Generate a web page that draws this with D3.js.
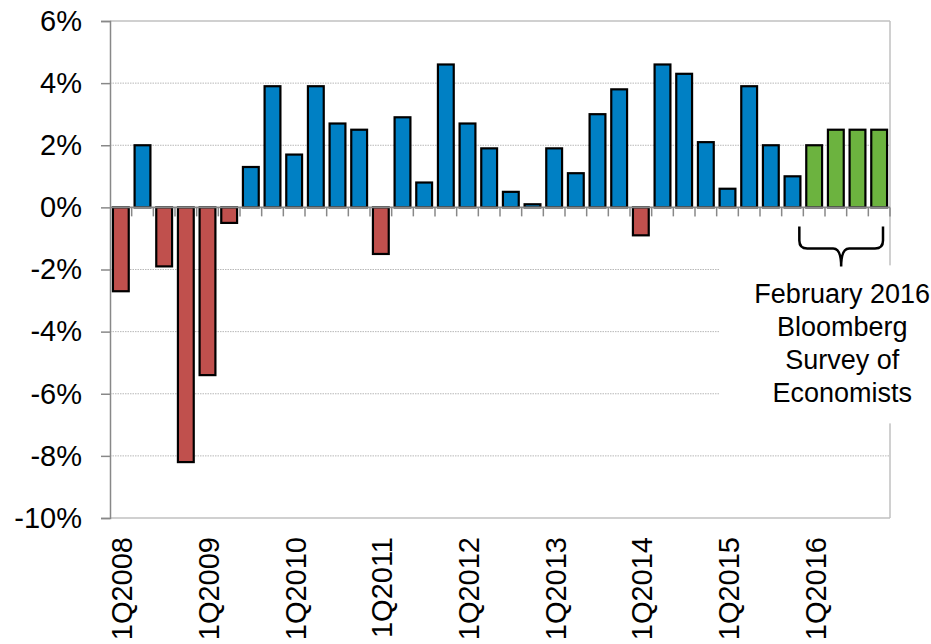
<!DOCTYPE html>
<html>
<head>
<meta charset="utf-8">
<script src="https://cdn.jsdelivr.net/npm/d3@7"></script>
<style>
  body { margin: 0; background: #fff; }
  svg { font-family: "Liberation Sans", Arial, sans-serif; }
</style>
</head>
<body>
<svg id="chart" width="931" height="644"></svg>
<script>
// quarters 1Q2008 .. 4Q2016
const years = d3.range(2008, 2017)
const quarters = years.flatMap(y => [1, 2, 3, 4].map(q => `${q}Q${y}`))

// real GDP growth, annualised q/q %
const actual = [
  -2.7, 2.0, -1.9, -8.2,
  -5.4, -0.5, 1.3, 3.9,
  1.7, 3.9, 2.7, 2.5,
  -1.5, 2.9, 0.8, 4.6,
  2.7, 1.9, 0.5, 0.1,
  1.9, 1.1, 3.0, 3.8,
  -0.9, 4.6, 4.3, 2.1,
  0.6, 3.9, 2.0, 1.0
]
// Bloomberg survey forecast for 2016
const forecast = [2.0, 2.5, 2.5, 2.5]

const yTicks = [6, 4, 2, 0, -2, -4, -6, -8, -10]
const noteLines = ["February 2016", "Bloomberg", "Survey of", "Economists"]

const data = quarters.map((q, i) => {
  const isForecast = i >= actual.length
  const v = isForecast ? forecast[i - actual.length] : actual[i]
  return { q, v, kind: isForecast ? "forecast" : (v < 0 ? "neg" : "pos") }
})

const colors = { pos: "#0080c4", neg: "#c0504d", forecast: "#6cb33f" }

const margin = { top: 21, right: 41, bottom: 126, left: 110 }
const W = 931, H = 644
const w = W - margin.left - margin.right
const h = H - margin.top - margin.bottom

const svg = d3.select("#chart")
const g = svg.append("g").attr("transform", `translate(${margin.left},${margin.top})`)

const x = d3.scaleBand().domain(quarters).range([0, w]).paddingInner(0.27).paddingOuter(0.135)
const xStep = d3.scaleBand().domain(quarters).range([0, w])
const y = d3.scaleLinear().domain([-10, 6]).range([h, 0])

// gridlines
g.append("g").selectAll("line")
  .data(yTicks.filter(t => t !== 6 && t !== -10 && t !== 0))
  .join("line")
    .attr("x1", 0).attr("x2", w)
    .attr("y1", d => y(d)).attr("y2", d => y(d))
    .attr("stroke", "#b8b8b8")
    .attr("stroke-dasharray", "1.5,1")

// top, bottom, right borders
g.append("line").attr("x1", 0).attr("x2", w).attr("y1", y(6)).attr("y2", y(6))
  .attr("stroke", "#c0c0c0").attr("stroke-width", 1.5)
g.append("line").attr("x1", 0).attr("x2", w).attr("y1", y(-10)).attr("y2", y(-10))
  .attr("stroke", "#c0c0c0").attr("stroke-width", 1.5)
g.append("line").attr("x1", w).attr("x2", w).attr("y1", y(6)).attr("y2", y(-10))
  .attr("stroke", "#c0c0c0").attr("stroke-width", 1.5)

// y axis
const yAxis = g.append("g")
  .call(d3.axisLeft(y).tickValues(yTicks).tickFormat(d => d + "%").tickSize(9).tickPadding(19))
yAxis.select(".domain").attr("stroke", "#888").attr("stroke-width", 1.5)
yAxis.selectAll(".tick line").attr("stroke", "#888").attr("stroke-width", 1.5)
yAxis.selectAll("text").attr("font-size", 29).attr("fill", "#000")
  .attr("font-family", "'Liberation Sans', Arial, sans-serif")

// bars
g.append("g").selectAll("rect")
  .data(data)
  .join("rect")
    .attr("x", d => x(d.q))
    .attr("width", x.bandwidth())
    .attr("y", d => y(Math.max(0, d.v)))
    .attr("height", d => Math.abs(y(d.v) - y(0)))
    .attr("fill", d => colors[d.kind])
    .attr("stroke", "#000")
    .attr("stroke-width", 2.2)

// zero line with category ticks
g.append("line").attr("x1", 0).attr("x2", w).attr("y1", y(0)).attr("y2", y(0))
  .attr("stroke", "#888").attr("stroke-width", 1.8)
g.append("g").selectAll("line")
  .data(quarters.slice(1).concat(["end"]))
  .join("line")
    .attr("x1", d => d === "end" ? w : xStep(d))
    .attr("x2", d => d === "end" ? w : xStep(d))
    .attr("y1", y(0)).attr("y2", y(0) + 9)
    .attr("stroke", "#888").attr("stroke-width", 1.5)

// x labels: first quarter of each year, rotated
g.append("g").selectAll("text")
  .data(quarters.filter(q => q.startsWith("1Q")))
  .join("text")
    .attr("transform", d => `translate(${xStep(d) + xStep.bandwidth() / 2 + 1},${h + 19}) rotate(-90)`)
    .attr("text-anchor", "end")
    .attr("dy", "0.36em")
    .attr("font-size", 29)
    .text(d => d)

// annotation: white box, brace, text
const fc0 = quarters[actual.length]
const bx0 = xStep(fc0) - 4
const bx1 = w - 7
const bmid = (bx0 + bx1) / 2
const by0 = y(0) + 19, by1 = y(0) + 41, by2 = y(0) + 59
const r = 8

g.append("rect")
  .attr("x", 610).attr("y", by2 - 1)
  .attr("width", W - margin.left - 610).attr("height", 158)
  .attr("fill", "#fff")

g.append("path")
  .attr("d", `M${bx0},${by0} L${bx0},${by1 - r} Q${bx0},${by1} ${bx0 + r},${by1}
    L${bmid - r},${by1} Q${bmid},${by1} ${bmid},${by2}
    Q${bmid},${by1} ${bmid + r},${by1} L${bx1 - r},${by1} Q${bx1},${by1} ${bx1},${by1 - r} L${bx1},${by0}`)
  .attr("fill", "none")
  .attr("stroke", "#000")
  .attr("stroke-width", 2.5)

g.append("g").selectAll("text")
  .data(noteLines)
  .join("text")
    .attr("x", bmid + 1)
    .attr("y", (d, i) => by2 + 37 + i * 33)
    .attr("text-anchor", "middle")
    .attr("font-size", 27)
    .text(d => d)
</script>
</body>
</html>
